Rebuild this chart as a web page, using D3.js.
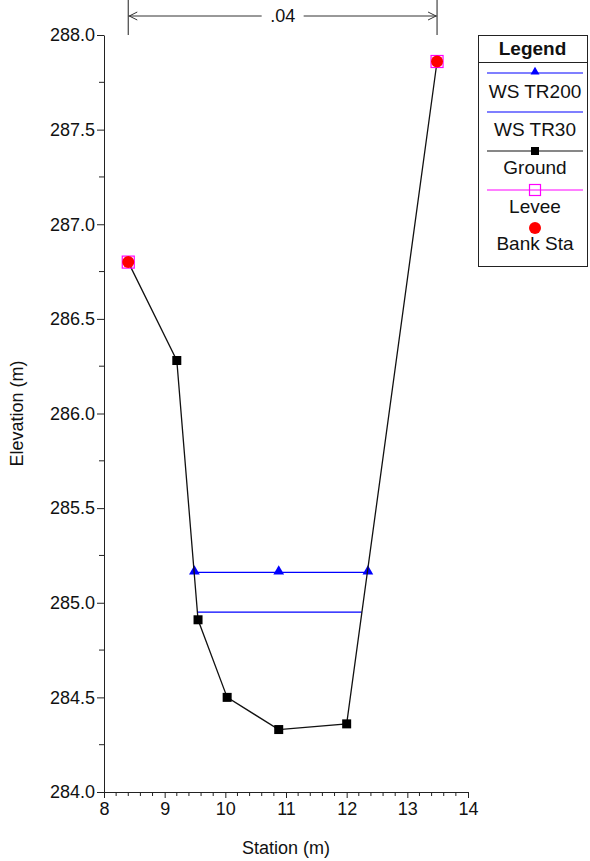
<!DOCTYPE html>
<html>
<head>
<meta charset="utf-8">
<script src="https://cdn.jsdelivr.net/npm/d3@7"></script>
<style>
  html, body { margin: 0; padding: 0; background: #fff; }
  svg { display: block; font-family: "Liberation Sans", Arial, sans-serif; }
</style>
</head>
<body>
<svg id="chart" width="590" height="861"></svg>
<script>
// ---- data ----
const groundStation = [8.40, 9.20, 9.55, 10.03, 10.88, 12.00, 13.49];
const groundElev    = [286.80, 286.28, 284.91, 284.50, 284.33, 284.36, 287.86];
const ws200Station  = [9.49, 10.88, 12.35];
const ws200Elev     = [285.16, 285.16, 285.16];
const ws30Station   = [9.54, 12.25];
const ws30Elev      = [284.95, 284.95];
const leveeStation  = [8.40, 13.49];
const leveeElev     = [286.80, 287.86];
const bankStation   = [8.40, 13.49];
const bankElev      = [286.80, 287.86];
const manningN      = [".04"];
const xTicks = [8, 9, 10, 11, 12, 13, 14];
const yTicks = [284.0, 284.5, 285.0, 285.5, 286.0, 286.5, 287.0, 287.5, 288.0];
const legendLabels = ["WS TR200", "WS TR30", "Ground", "Levee", "Bank Sta"];

// ---- layout ----
const svg = d3.select("#chart");
const x = d3.scaleLinear().domain([8, 14]).range([104, 468]);
const y = d3.scaleLinear().domain([284, 288]).range([792, 35]);
const FONT = 18;
const LFONT = 19;

// minor ticks
const xMinor = d3.range(8, 14.0001, 0.2).filter(v => Math.abs(v - Math.round(v)) > 1e-6);
const yMinor = d3.range(284.25, 288, 0.5);

const axisColor = "#222";

// X axis
const gx = svg.append("g").attr("transform", `translate(0,${y(284)})`);
gx.call(d3.axisBottom(x).tickValues(xTicks).tickFormat(d3.format("d")).tickSizeInner(6).tickSizeOuter(0).tickPadding(4));
gx.append("g").selectAll("line").data(xMinor).join("line")
  .attr("x1", d => x(d)).attr("x2", d => x(d)).attr("y1", 0).attr("y2", 4)
  .attr("stroke", axisColor);
gx.selectAll("text").attr("font-size", FONT).attr("fill", "#111").attr("font-family", "Liberation Sans, Arial, sans-serif");

// Y axis
const gy = svg.append("g").attr("transform", `translate(${x(8)},0)`);
gy.call(d3.axisLeft(y).tickValues(yTicks).tickFormat(d3.format(".1f")).tickSizeInner(7).tickSizeOuter(0).tickPadding(2));
gy.append("g").selectAll("line").data(yMinor).join("line")
  .attr("x1", -5).attr("x2", 0).attr("y1", d => y(d)).attr("y2", d => y(d))
  .attr("stroke", axisColor);
gy.selectAll("text").attr("font-size", FONT).attr("fill", "#111").attr("font-family", "Liberation Sans, Arial, sans-serif");

svg.selectAll(".domain, .tick line").attr("stroke", axisColor);

// axis titles
svg.append("text").attr("x", x(11)).attr("y", 854).attr("text-anchor", "middle")
  .attr("font-size", FONT).attr("fill", "#111").text("Station (m)");
svg.append("text").attr("transform", `translate(23,${(y(284) + y(288)) / 2}) rotate(-90)`)
  .attr("text-anchor", "middle").attr("font-size", FONT).attr("fill", "#111").text("Elevation (m)");

// Manning's n annotation
const annY = 16;
const a0 = x(bankStation[0]), a1 = x(bankStation[1]);
svg.append("line").attr("x1", a0).attr("x2", a0).attr("y1", 0).attr("y2", y(288)).attr("stroke", "#444").attr("stroke-width", 1.2);
svg.append("line").attr("x1", a1).attr("x2", a1).attr("y1", 0).attr("y2", y(288)).attr("stroke", "#444").attr("stroke-width", 1.2);
const mid = (a0 + a1) / 2;
svg.append("line").attr("x1", a0).attr("x2", mid - 21).attr("y1", annY).attr("y2", annY).attr("stroke", "#333");
svg.append("line").attr("x1", mid + 21).attr("x2", a1).attr("y1", annY).attr("y2", annY).attr("stroke", "#333");
svg.append("path").attr("d", `M${a0 + 9},${annY - 4}L${a0 + 1},${annY}L${a0 + 9},${annY + 4}`).attr("fill", "none").attr("stroke", "#333");
svg.append("path").attr("d", `M${a1 - 9},${annY - 4}L${a1 - 1},${annY}L${a1 - 9},${annY + 4}`).attr("fill", "none").attr("stroke", "#333");
svg.append("text").attr("x", mid).attr("y", annY).attr("dy", "0.35em").attr("text-anchor", "middle")
  .attr("font-size", FONT).attr("fill", "#111").text(manningN[0]);

// ---- series ----
const line = d3.line().x(d => x(d[0])).y(d => y(d[1]));
const tri = d3.symbol().type(d3.symbolTriangle).size(50);

// WS TR200
const ws200 = ws200Station.map((s, i) => [s, ws200Elev[i]]);
svg.append("path").attr("d", line(ws200)).attr("fill", "none").attr("stroke", "#0000ff").attr("stroke-width", 1.3);
svg.append("g").selectAll("path").data(ws200).join("path")
  .attr("transform", d => `translate(${x(d[0])},${y(d[1]) - 1})`).attr("d", tri).attr("fill", "#0000ff");

// WS TR30
const ws30 = ws30Station.map((s, i) => [s, ws30Elev[i]]);
svg.append("path").attr("d", line(ws30)).attr("fill", "none").attr("stroke", "#0000ff").attr("stroke-width", 1.3);

// Ground
const ground = groundStation.map((s, i) => [s, groundElev[i]]);
svg.append("path").attr("d", line(ground)).attr("fill", "none").attr("stroke", "#111").attr("stroke-width", 1.3);
svg.append("g").selectAll("rect").data(ground.slice(1, -1)).join("rect")
  .attr("x", d => x(d[0]) - 4.5).attr("y", d => y(d[1]) - 4.5).attr("width", 9).attr("height", 9).attr("fill", "#000");

// Levee
const levee = leveeStation.map((s, i) => [s, leveeElev[i]]);
svg.append("g").selectAll("rect").data(levee).join("rect")
  .attr("x", d => x(d[0]) - 6).attr("y", d => y(d[1]) - 6).attr("width", 12).attr("height", 12)
  .attr("fill", "none").attr("stroke", "#ff00ff").attr("stroke-width", 1.2);

// Bank stations
const bank = bankStation.map((s, i) => [s, bankElev[i]]);
svg.append("g").selectAll("circle").data(bank).join("circle")
  .attr("cx", d => x(d[0])).attr("cy", d => y(d[1])).attr("r", 6).attr("fill", "#ff0000");

// ---- legend ----
const lg = svg.append("g");
const L = { x0: 478, x1: 587, y0: 35, y1: 266 };
lg.append("rect").attr("x", L.x0 + 0.5).attr("y", L.y0 + 0.5).attr("width", L.x1 - L.x0).attr("height", L.y1 - L.y0)
  .attr("fill", "#fff").attr("stroke", "#222");
lg.append("line").attr("x1", L.x0).attr("x2", L.x1).attr("y1", 62.5).attr("y2", 62.5).attr("stroke", "#222");
lg.append("text").attr("x", (L.x0 + L.x1) / 2).attr("y", 48).attr("dy", "0.35em").attr("text-anchor", "middle")
  .attr("font-size", LFONT).attr("font-weight", "bold").attr("fill", "#111").text("Legend");

const lineYs = [73, 112, 151, 190, 228];
const textYs = [91, 129, 167, 206, 243];
const lx0 = 487, lx1 = 583, lmid = 535;
const legendColors = ["#0000ff", "#0000ff", "#111", "#ff00ff", null];
legendLabels.forEach((lab, i) => {
  if (legendColors[i]) {
    lg.append("line").attr("x1", lx0).attr("x2", lx1).attr("y1", lineYs[i]).attr("y2", lineYs[i])
      .attr("stroke", legendColors[i]).attr("stroke-width", 1.2);
  }
  lg.append("text").attr("x", lmid).attr("y", textYs[i]).attr("dy", "0.35em").attr("text-anchor", "middle")
    .attr("font-size", LFONT).attr("fill", "#111").text(lab);
});
lg.append("path").attr("transform", `translate(${lmid},${lineYs[0] - 1})`).attr("d", d3.symbol().type(d3.symbolTriangle).size(35)).attr("fill", "#0000ff");
lg.append("rect").attr("x", lmid - 4).attr("y", lineYs[2] - 4).attr("width", 8).attr("height", 8).attr("fill", "#000");
lg.append("rect").attr("x", lmid - 5.5).attr("y", lineYs[3] - 5.5).attr("width", 11).attr("height", 11)
  .attr("fill", "none").attr("stroke", "#ff00ff").attr("stroke-width", 1.2);
lg.append("circle").attr("cx", lmid).attr("cy", lineYs[4]).attr("r", 6).attr("fill", "#ff0000");
</script>
</body>
</html>
